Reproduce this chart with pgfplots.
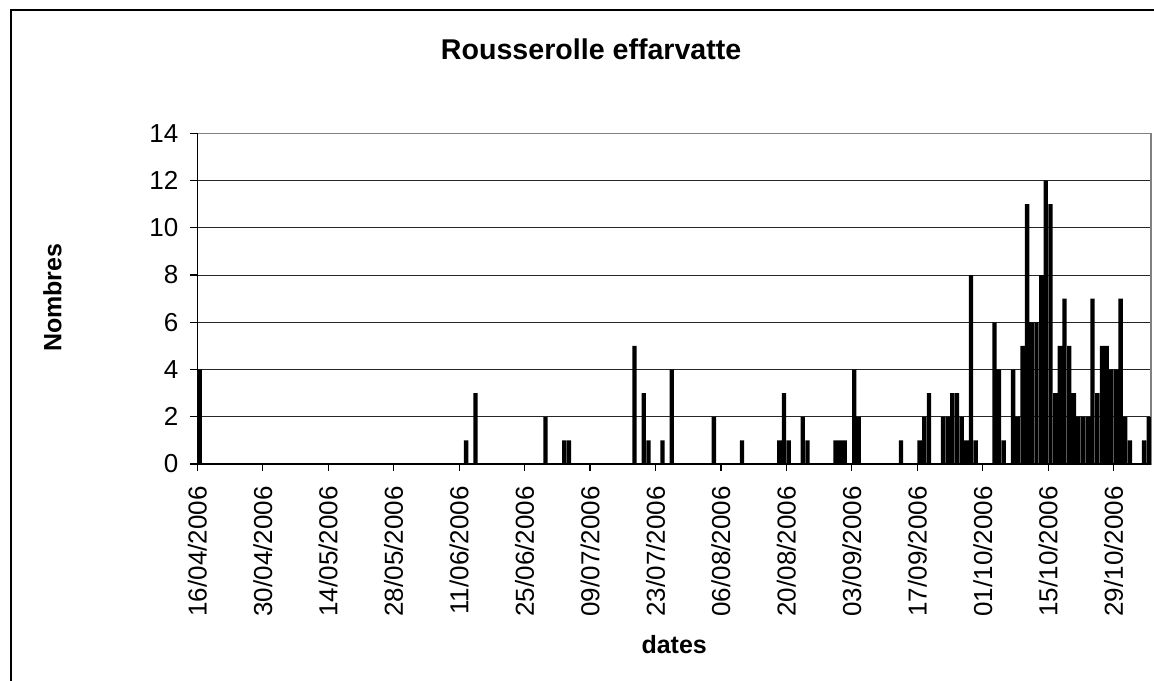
\documentclass[border=0pt]{standalone}
\usepackage{fontspec}
\setmainfont{Liberation Sans}
\usepackage{pgfplots}
\usepackage{pgfplotstable}
\pgfplotsset{compat=1.18}
\pgfplotstableread{
day val
0.5 4
57.5 1
59.5 3
74.5 2
78.5 1
79.5 1
93.5 5
95.5 3
96.5 1
99.5 1
101.5 4
110.5 2
116.5 1
124.5 1
125.5 3
126.5 1
129.5 2
130.5 1
136.5 1
137.5 1
138.5 1
140.5 4
141.5 2
150.5 1
154.5 1
155.5 2
156.5 3
159.5 2
160.5 2
161.5 3
162.5 3
163.5 2
164.5 1
165.5 8
166.5 1
170.5 6
171.5 4
172.5 1
174.5 4
175.5 2
176.5 5
177.5 11
178.5 6
179.5 6
180.5 8
181.5 12
182.5 11
183.5 3
184.5 5
185.5 7
186.5 5
187.5 3
188.5 2
189.5 2
190.5 2
191.5 7
192.5 3
193.5 5
194.5 5
195.5 4
196.5 4
197.5 7
198.5 2
199.5 1
202.5 1
203.5 2
}\datatable
\begin{document}
\begin{tikzpicture}
\useasboundingbox (0pt,0pt) rectangle (577pt,-340pt);
\draw[line width=0.9pt] (5.5pt,-341pt) -- (5.5pt,-5pt) -- (578pt,-5pt);
\begin{axis}[
  at={(98.65pt,-232pt)}, anchor=south west,
  scale only axis,
  width=476.85pt, height=165.35pt,
  xmin=0, xmax=204, ymin=0, ymax=14,
  xtick={0,14,...,196},
  xticklabels={16/04/2006,30/04/2006,14/05/2006,28/05/2006,11/06/2006,25/06/2006,09/07/2006,23/07/2006,06/08/2006,20/08/2006,03/09/2006,17/09/2006,01/10/2006,15/10/2006,29/10/2006},
  ytick={0,2,...,14},
  xtick pos=left, ytick pos=left,
  tick align=outside,
  major tick length=3.5pt,
  tick style={black, line width=0.6pt},
  ymajorgrids,
  major grid style={black!85, line width=0.5pt},
  axis line style={black!50, line width=0.6pt},
  /pgf/number format/assume math mode=true,
  ticklabel style={font=\fontsize{13}{15}\selectfont},
  xticklabel style={yshift=-6.5pt, rotate=90, anchor=east, inner sep=1pt},
  yticklabel style={anchor=east, xshift=-2.5pt},
  title={Rousserolle effarvatte},
  title style={at={(rel axis cs:0.413,1)}, anchor=base, yshift=31pt, font=\bfseries\fontsize{14.3}{17}\selectfont},
  xlabel={dates},
  every axis x label/.style={at={(rel axis cs:0.5,0)}, anchor=base, yshift=-94.5pt, font=\bfseries\fontsize{12.5}{15}\selectfont},
  ylabel={Nombres},
  every axis y label/.style={at={(rel axis cs:0,0.503)}, xshift=-72.4pt, rotate=90, anchor=center, font=\bfseries\fontsize{12.5}{15}\selectfont},
  clip=false,
]
\addplot[ybar, fill=black, draw=none, bar width=0.92, bar shift=0pt] table[x=day, y=val] {\datatable};
\draw[black, line width=0.8pt] (rel axis cs:0,1) -- (rel axis cs:0,0) -- (rel axis cs:1,0);
\end{axis}
\end{tikzpicture}
\end{document}
